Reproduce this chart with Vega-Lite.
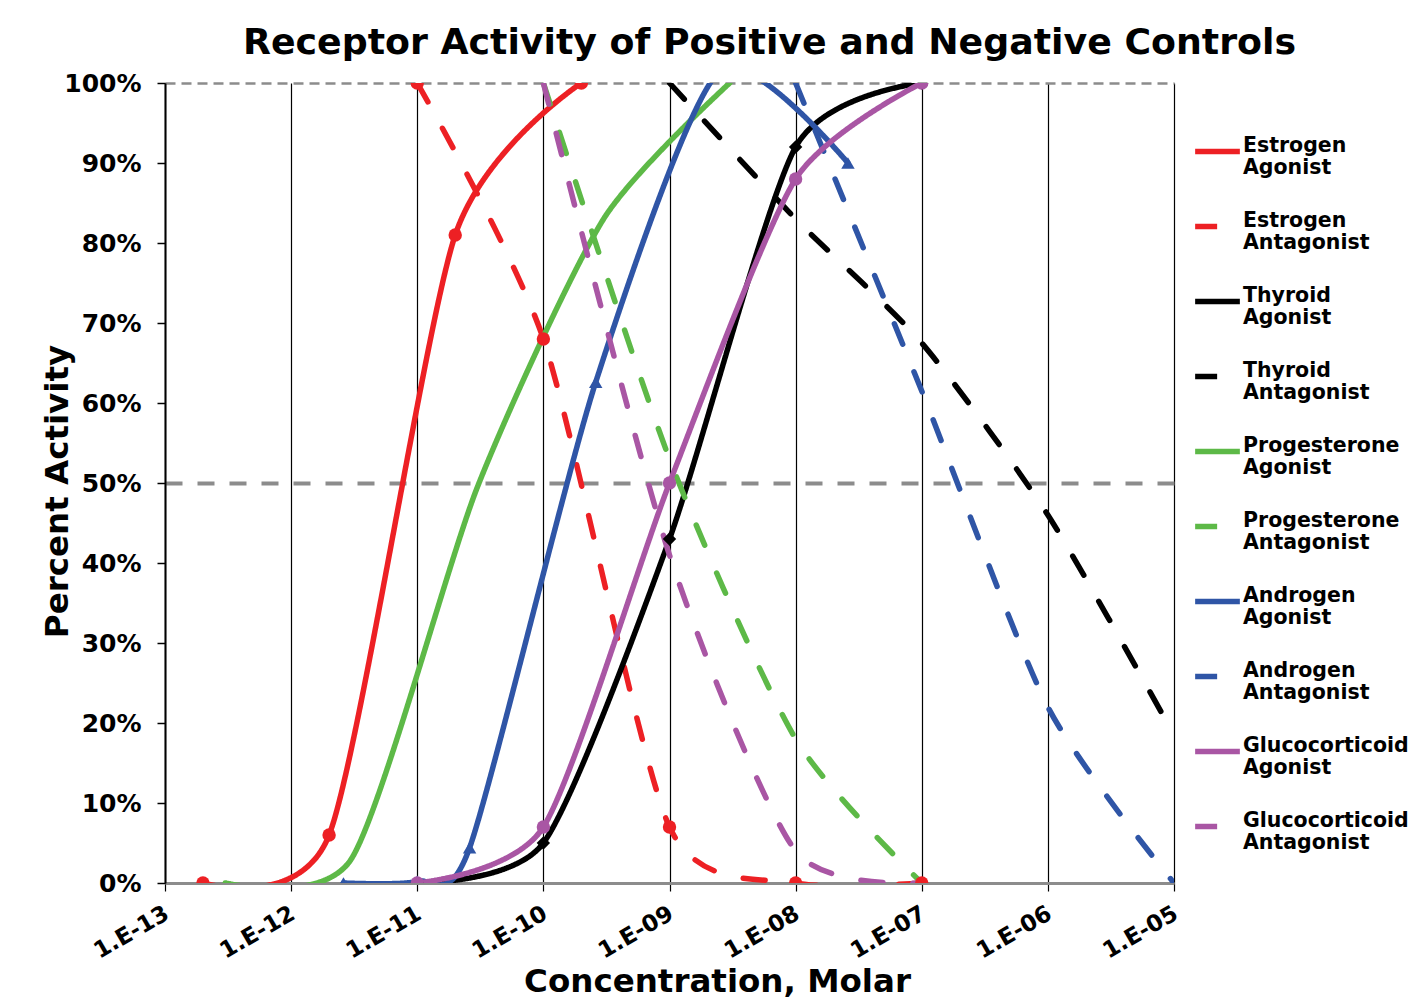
{
  "$schema": "https://vega.github.io/schema/vega-lite/v6.json",
  "width": 1009,
  "height": 800,
  "autosize": {"type": "none"},
  "padding": {"left": 165, "top": 83, "right": 240, "bottom": 115},
  "background": "white",
  "title": {
    "text": "Receptor Activity of Positive and Negative Controls",
    "font": "DejaVu Sans", "fontSize": 36.3, "fontWeight": "bold", "color": "black",
    "anchor": "middle", "dx": 100, "dy": 39, "offset": 20, "baseline": "alphabetic"
  },
  "config": {"view": {"stroke": null}, "font": "DejaVu Sans"},
  "data": {
    "values": [
      {"series": "Estrogen Agonist", "conc": 2e-13, "pct": 0},
      {"series": "Estrogen Agonist", "conc": 2e-12, "pct": 0.06},
      {"series": "Estrogen Agonist", "conc": 2e-11, "pct": 0.81},
      {"series": "Estrogen Agonist", "conc": 2e-10, "pct": 1.0},
      {"series": "Estrogen Antagonist", "conc": 1e-11, "pct": 1.0},
      {"series": "Estrogen Antagonist", "conc": 1e-10, "pct": 0.68},
      {"series": "Estrogen Antagonist", "conc": 1e-9, "pct": 0.07},
      {"series": "Estrogen Antagonist", "conc": 1e-8, "pct": 0},
      {"series": "Estrogen Antagonist", "conc": 1e-7, "pct": 0},
      {"series": "Thyroid Agonist", "conc": 1e-11, "pct": 0},
      {"series": "Thyroid Agonist", "conc": 1e-10, "pct": 0.05},
      {"series": "Thyroid Agonist", "conc": 1e-9, "pct": 0.43},
      {"series": "Thyroid Agonist", "conc": 1e-8, "pct": 0.92},
      {"series": "Thyroid Agonist", "conc": 1e-7, "pct": 1.0},
      {"series": "Thyroid Antagonist", "conc": 1e-9, "pct": 1.0},
      {"series": "Thyroid Antagonist", "conc": 1e-8, "pct": 0.83},
      {"series": "Thyroid Antagonist", "conc": 1e-7, "pct": 0.675},
      {"series": "Thyroid Antagonist", "conc": 1e-6, "pct": 0.46},
      {"series": "Thyroid Antagonist", "conc": 1e-5, "pct": 0.185},
      {"series": "Progesterone Agonist", "conc": 3e-13, "pct": 0},
      {"series": "Progesterone Agonist", "conc": 3e-12, "pct": 0.03},
      {"series": "Progesterone Agonist", "conc": 3e-11, "pct": 0.495},
      {"series": "Progesterone Agonist", "conc": 3e-10, "pct": 0.83},
      {"series": "Progesterone Agonist", "conc": 3e-9, "pct": 1.0},
      {"series": "Progesterone Antagonist", "conc": 1e-10, "pct": 1.0},
      {"series": "Progesterone Antagonist", "conc": 1e-9, "pct": 0.53},
      {"series": "Progesterone Antagonist", "conc": 1e-8, "pct": 0.18},
      {"series": "Progesterone Antagonist", "conc": 1e-7, "pct": 0},
      {"series": "Androgen Agonist", "conc": 2.6e-12, "pct": 0},
      {"series": "Androgen Agonist", "conc": 1e-11, "pct": 0.002},
      {"series": "Androgen Agonist", "conc": 2.6e-11, "pct": 0.044},
      {"series": "Androgen Agonist", "conc": 2.6e-10, "pct": 0.626},
      {"series": "Androgen Agonist", "conc": 2.5e-9, "pct": 1.015},
      {"series": "Androgen Agonist", "conc": 2.6e-8, "pct": 0.9},
      {"series": "Androgen Antagonist", "conc": 1e-8, "pct": 1.0},
      {"series": "Androgen Antagonist", "conc": 1e-7, "pct": 0.615},
      {"series": "Androgen Antagonist", "conc": 1e-6, "pct": 0.22},
      {"series": "Androgen Antagonist", "conc": 1e-5, "pct": 0},
      {"series": "Glucocorticoid Agonist", "conc": 1e-11, "pct": 0},
      {"series": "Glucocorticoid Agonist", "conc": 1e-10, "pct": 0.07},
      {"series": "Glucocorticoid Agonist", "conc": 1e-9, "pct": 0.5},
      {"series": "Glucocorticoid Agonist", "conc": 1e-8, "pct": 0.88},
      {"series": "Glucocorticoid Agonist", "conc": 1e-7, "pct": 1.0},
      {"series": "Glucocorticoid Antagonist", "conc": 1e-10, "pct": 1.0},
      {"series": "Glucocorticoid Antagonist", "conc": 1e-9, "pct": 0.41},
      {"series": "Glucocorticoid Antagonist", "conc": 1e-8, "pct": 0.04},
      {"series": "Glucocorticoid Antagonist", "conc": 1e-7, "pct": 0}
    ]
  },
  "layer": [
    {
      "mark": {"type": "line", "interpolate": "cardinal", "tension": 0.3, "strokeWidth": 5.5, "clip": true, "strokeCap": "round"},
      "encoding": {
        "x": {
          "field": "conc", "type": "quantitative",
          "scale": {"type": "log", "domain": [1e-13, 1e-5], "nice": false},
          "axis": {
            "title": "Concentration, Molar",
            "values": [1e-13, 1e-12, 1e-11, 1e-10, 1e-9, 1e-8, 1e-7, 1e-6, 1e-5],
            "labelExpr": "'1.E-' + (round(-log(datum.value)/LN10) < 10 ? '0' : '') + round(-log(datum.value)/LN10)",
            "grid": true, "gridColor": "black", "gridWidth": 1.2,
            "domainColor": "#8c8c8c", "domainWidth": 3,
            "tickColor": "black", "tickSize": 8, "tickWidth": 1.2,
            "labelAngle": -30, "labelAlign": "right", "labelBaseline": "top",
            "labelOffset": -4, "labelPadding": 11, "labelOverlap": false, "labelFlush": false,
            "labelFont": "DejaVu Sans", "labelFontSize": 23, "labelFontWeight": "bold", "labelColor": "black",
            "titleFont": "DejaVu Sans", "titleFontSize": 32.5, "titleFontWeight": "bold", "titleColor": "black",
            "titleX": 552, "titleY": 108, "titleBaseline": "alphabetic", "titleAlign": "center"
          }
        },
        "y": {
          "field": "pct", "type": "quantitative",
          "scale": {"domain": [0, 1], "nice": false},
          "axis": {
            "title": "Percent Activity",
            "values": [0, 0.1, 0.2, 0.3, 0.4, 0.5, 0.6, 0.7, 0.8, 0.9, 1],
            "format": ".0%",
            "grid": true, "gridColor": "#8c8c8c",
            "gridOpacity": {"condition": {"test": "datum.value > 0.45 && (abs(datum.value - 0.5) < 0.01 || datum.value > 0.99)", "value": 1}, "value": 0},
            "gridDash": {"condition": {"test": "abs(datum.value - 0.5) < 0.01", "value": [17, 15]}, "value": [10, 6]},
            "gridWidth": {"condition": {"test": "abs(datum.value - 0.5) < 0.01", "value": 4}, "value": 2.5},
            "domainColor": "black", "domainWidth": 2,
            "tickColor": "black", "tickSize": 8, "tickWidth": 1.5,
            "labelPadding": 16,
            "labelFont": "DejaVu Sans", "labelFontSize": 25, "labelFontWeight": "bold", "labelColor": "black",
            "titleFont": "DejaVu Sans", "titleFontSize": 32.5, "titleFontWeight": "bold", "titleColor": "black",
            "titleX": -108, "titleY": 408, "titleBaseline": "middle", "titleAlign": "center", "titleAngle": 270
          }
        },
        "color": {
          "field": "series", "type": "nominal",
          "scale": {
            "domain": ["Estrogen Agonist", "Estrogen Antagonist", "Thyroid Agonist", "Thyroid Antagonist", "Progesterone Agonist", "Progesterone Antagonist", "Androgen Agonist", "Androgen Antagonist", "Glucocorticoid Agonist", "Glucocorticoid Antagonist"],
            "range": ["#ED2024", "#ED2024", "#000000", "#000000", "#5DB947", "#5DB947", "#2F55A6", "#2F55A6", "#A956A4", "#A956A4"]
          },
          "legend": {
            "title": null, "orient": "none", "legendX": 1027, "legendY": 43, "padding": 0,
            "symbolType": "stroke", "symbolSize": 2000, "symbolStrokeWidth": 5.5,
            "labelExpr": "split(datum.label, ' ')",
            "labelFont": "DejaVu Sans", "labelFontSize": 20.5, "labelFontWeight": "bold", "labelColor": "black",
            "labelBaseline": "alphabetic", "labelLineHeight": 25, "rowPadding": 22, "labelOffset": 0, "labelLimit": 300
          }
        },
        "strokeDash": {
          "field": "series", "type": "nominal",
          "scale": {
            "domain": ["Estrogen Agonist", "Estrogen Antagonist", "Thyroid Agonist", "Thyroid Antagonist", "Progesterone Agonist", "Progesterone Antagonist", "Androgen Agonist", "Androgen Antagonist", "Glucocorticoid Agonist", "Glucocorticoid Antagonist"],
            "range": [[1, 0], [22, 30], [1, 0], [22, 30], [1, 0], [22, 30], [1, 0], [22, 30], [1, 0], [22, 30]]
          },
          "legend": {
            "title": null, "orient": "none", "legendX": 1027, "legendY": 43, "padding": 0,
            "symbolType": "stroke", "symbolSize": 2000, "symbolStrokeWidth": 5.5,
            "labelExpr": "split(datum.label, ' ')",
            "labelFont": "DejaVu Sans", "labelFontSize": 20.5, "labelFontWeight": "bold", "labelColor": "black",
            "labelBaseline": "alphabetic", "labelLineHeight": 25, "rowPadding": 22, "labelOffset": 0, "labelLimit": 300
          }
        }
      }
    },
    {
      "transform": [{"filter": {"field": "series", "oneOf": ["Estrogen Agonist", "Estrogen Antagonist", "Thyroid Agonist", "Androgen Agonist", "Glucocorticoid Agonist"]}}],
      "mark": {"type": "point", "filled": true, "size": 180, "opacity": 1, "clip": true},
      "encoding": {
        "x": {"field": "conc", "type": "quantitative"},
        "y": {"field": "pct", "type": "quantitative"},
        "color": {"field": "series", "type": "nominal", "legend": null},
        "shape": {
          "field": "series", "type": "nominal", "legend": null,
          "scale": {"domain": ["Estrogen Agonist", "Estrogen Antagonist", "Thyroid Agonist", "Androgen Agonist", "Glucocorticoid Agonist"], "range": ["circle", "circle", "diamond", "triangle-up", "circle"]}
        }
      }
    }
  ]
}
